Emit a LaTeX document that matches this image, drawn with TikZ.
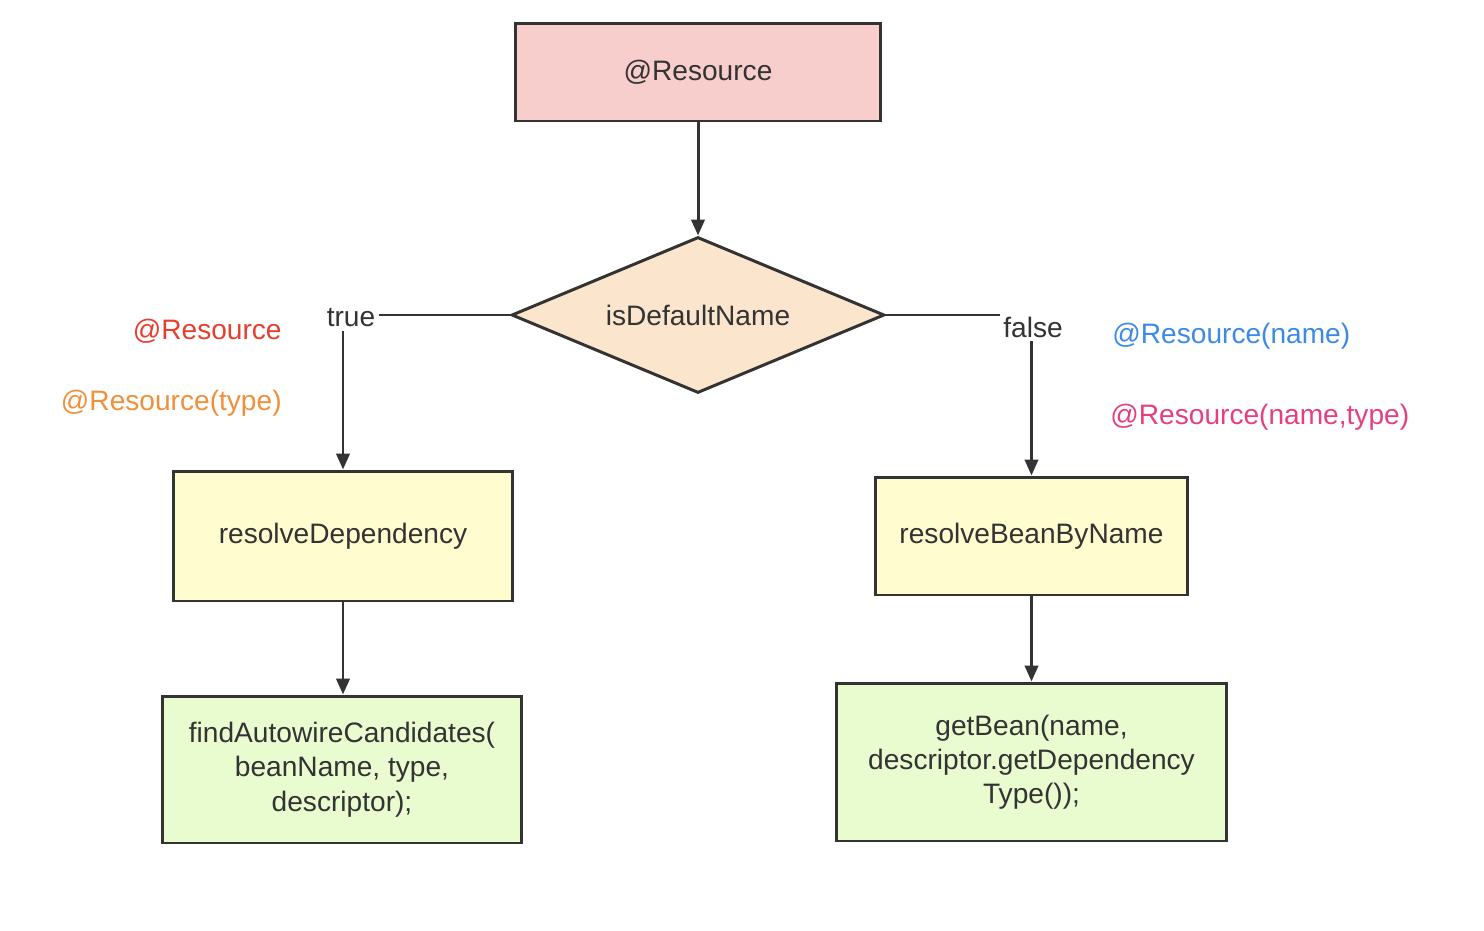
\documentclass[tikz,border=0pt]{standalone}
\usepackage{fontspec}
\setmainfont{Liberation Sans}
\usetikzlibrary{arrows.meta,shapes.geometric,positioning}

\definecolor{edgegray}{HTML}{333333}
\definecolor{pinkfill}{HTML}{F8CECC}
\definecolor{peachfill}{HTML}{FCE5CD}
\definecolor{yellowfill}{HTML}{FFFDCF}
\definecolor{greenfill}{HTML}{E8FCCF}
\definecolor{annred}{HTML}{E5402F}
\definecolor{annorange}{HTML}{F0903C}
\definecolor{annblue}{HTML}{3D8AE6}
\definecolor{annpink}{HTML}{E63F80}

\begin{document}
\begin{tikzpicture}
[x=0.02cm,y=-0.02cm,
font=\fontsize{16}{19.5}\selectfont,
box/.style={rectangle,draw=edgegray,line width=1.7pt,text=edgegray,align=center,inner sep=0pt},
decision/.style={diamond,draw=edgegray,line width=1.7pt,fill=peachfill,text=edgegray,aspect=2.4,inner sep=0pt,minimum width=7.46cm,minimum height=3.12cm},
flow/.style={draw=edgegray,line width=1.7pt,-{Triangle[length=9pt,width=7.5pt]}},
branch/.style={fill=white,text=edgegray,inner sep=2pt},
note/.style={inner sep=0pt}]
\useasboundingbox (0,0) rectangle (1484,930);

% boxes
\node (resource) at (698,72) [box,fill=pinkfill,minimum width=7.32cm,minimum height=1.96cm] {@Resource};
\node (isdefault) at (698,315) [decision] {isDefaultName};
\node (resolvedep) at (343,536) [box,fill=yellowfill,minimum width=6.78cm,minimum height=2.6cm] {resolveDependency};
\node (resolvebean) at (1031.5,536) [box,fill=yellowfill,minimum width=6.26cm,minimum height=2.36cm] {resolveBeanByName};
\node (findcand) at (342,769.5) [box,fill=greenfill,minimum width=7.2cm,minimum height=2.94cm] {findAutowireCandidates(\\beanName, type,\\descriptor);};
\node (getbean) at (1031.5,762) [box,fill=greenfill,minimum width=7.82cm,minimum height=3.16cm] {getBean(name,\\descriptor.getDependency\\Type());};

% connectors
\draw[flow] (resource) -- (isdefault);
\draw[flow] (isdefault.west) -| (resolvedep.north);
\draw[flow] (isdefault.east) -| (resolvebean.north);
\draw[flow] (resolvedep.south) -- (resolvedep.south |- findcand.north);
\draw[flow] (resolvebean.south) -- (resolvebean.south |- getbean.north);

% branch labels
\node (truelabel) at (351,318) [branch] {true};
\node (falselabel) at (1033,327) [branch] {false};

% annotations
\node (annres) at (282,331) [note,anchor=east,text=annred] {@Resource};
\node (anntype) at (282,403) [note,anchor=east,text=annorange] {@Resource(type)};
\node (annname) at (1112,336) [note,anchor=west,text=annblue] {@Resource(name)};
\node (annnametype) at (1110,417) [note,anchor=west,text=annpink] {@Resource(name,type)};
\end{tikzpicture}
\end{document}
